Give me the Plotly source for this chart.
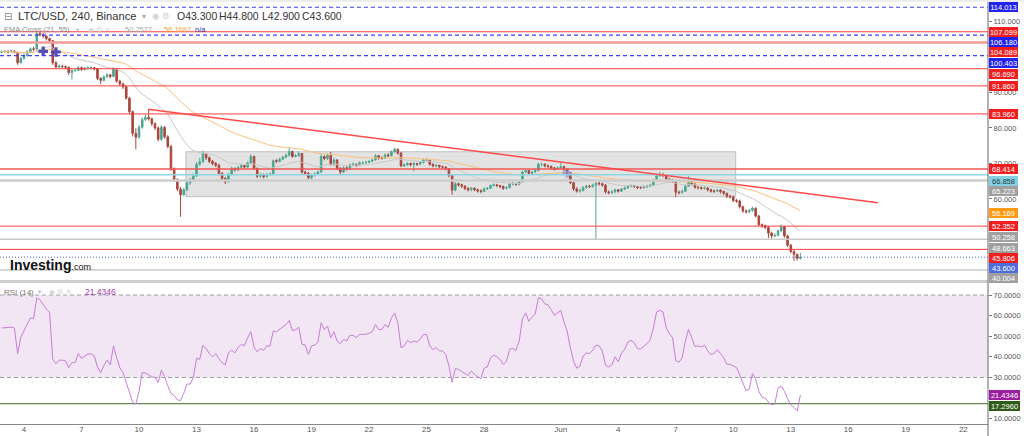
import pandas as pd
import plotly.graph_objects as go

# ---------------- data (LTC/USD 4h candles) ----------------
start_time = "2022-05-02 20:00"
first_open = 101.3

close = [
    101.5,
    101.6, 101.4, 101.7, 101.3, 98.4, 99.6,      # May 3
    100.4, 101.5, 102.3, 102.2, 106.6, 106.3,    # May 4
    105.9, 105.2, 104.6, 98.4, 97.2, 97.4,       # May 5
    97.3, 97.1, 95.6, 96.2, 96.2, 97.0,          # May 6
    96.5, 96.8, 97.0, 97.0, 96.7, 94.0,          # May 7
    93.4, 94.4, 95.0, 94.5, 96.8, 93.2,          # May 8
    92.4, 91.6, 88.4, 84.6, 78.5, 77.4,          # May 9
    80.2, 82.4, 83.0, 82.6, 81.2, 80.0,          # May 10
    76.8, 80.2, 77.5, 74.8, 68.5, 65.5,          # May 11
    62.8, 61.2, 62.6, 64.6, 65.2, 66.5,          # May 12
    69.8, 70.5, 72.8, 71.6, 70.6, 70.0,          # May 13
    69.5, 67.2, 65.8, 64.8, 67.0, 68.6,          # May 14
    68.2, 68.9, 69.4, 69.0, 70.2, 72.0,          # May 15
    68.6, 66.4, 66.9, 66.3, 66.9, 67.0,          # May 16
    70.8, 70.6, 71.2, 71.8, 72.3, 73.4,          # May 17
    72.0, 72.2, 72.8, 67.6, 67.2, 66.0,          # May 18
    66.8, 67.0, 67.6, 72.0, 71.4, 72.3,          # May 19
    69.8, 71.0, 68.6, 67.6, 68.8, 68.4,          # May 20
    69.6, 69.8, 69.5, 70.2, 70.2, 70.3,          # May 21
    70.6, 71.0, 72.2, 71.5, 71.5, 72.4,          # May 22
    72.2, 73.3, 74.0, 72.9, 69.3, 69.6,          # May 23
    70.0, 69.7, 70.0, 69.8, 70.3, 71.0,          # May 24
    71.0, 69.8, 69.3, 69.5, 69.1, 69.0,          # May 25
    68.5, 66.6, 62.5, 64.3, 64.0, 63.6,          # May 26
    63.0, 62.6, 63.0, 62.6, 62.3, 62.1,          # May 27
    62.9, 63.0, 63.8, 64.0, 63.8, 63.5,          # May 28
    63.0, 63.2, 64.2, 64.3, 64.1, 64.8,          # May 29
    67.6, 68.0, 67.2, 67.6, 68.0, 69.8,          # May 30
    69.8, 69.3, 69.2, 68.8, 68.4, 68.7,          # May 31
    69.1, 68.3, 67.2, 64.6, 62.8, 62.2,          # Jun 1
    62.4, 63.2, 63.6, 63.5, 63.9, 64.4,          # Jun 2
    64.3, 63.9, 62.0, 61.8, 62.0, 62.6,          # Jun 3
    62.2, 62.8, 63.1, 63.6, 63.7, 63.5,          # Jun 4
    63.2, 63.2, 63.4, 63.6, 63.9, 65.2,          # Jun 5
    66.6, 66.8, 66.7, 65.6, 65.3, 65.0,          # Jun 6
    61.9, 61.8, 62.2, 63.6, 65.1, 64.2,          # Jun 7
    63.3, 63.2, 63.0, 63.1, 62.6, 62.2,          # Jun 8
    62.2, 62.5, 62.1, 61.6, 60.8, 60.6,          # Jun 9
    59.6, 59.4, 57.8, 56.6, 56.4, 56.8,          # Jun 10
    57.4, 55.2, 52.8, 52.5, 52.0, 50.4,          # Jun 11
    49.6, 49.8, 51.0, 52.2, 49.6, 47.0,          # Jun 12
    45.2, 44.4, 43.3, 43.6,                      # Jun 13
]

high = [
    102.0,
    102.0, 101.9, 102.1, 101.9, 101.5, 100.0,
    100.8, 101.9, 102.7, 102.9, 107.5, 107.1,
    106.8, 106.1, 105.4, 104.8, 98.8, 97.9,
    97.8, 97.6, 97.3, 96.6, 96.8, 97.4,
    97.3, 97.2, 97.4, 97.5, 97.2, 96.9,
    94.3, 94.8, 95.4, 95.2, 97.2, 96.9,
    93.6, 92.8, 91.9, 88.8, 84.9, 79.9,
    80.8, 83.0, 83.8, 85.2, 82.9, 81.6,
    80.4, 80.8, 80.5, 78.0, 75.2, 68.9,
    65.8, 63.4, 63.2, 65.2, 66.0, 67.2,
    70.4, 71.6, 73.6, 73.0, 72.0, 71.0,
    70.4, 69.9, 67.6, 66.2, 67.4, 69.2,
    68.9, 69.3, 69.9, 69.6, 70.6, 72.6,
    72.2, 68.9, 67.3, 67.2, 67.3, 67.5,
    71.1, 71.2, 71.6, 72.2, 72.8, 74.6,
    73.6, 72.7, 73.4, 72.9, 67.9, 67.6,
    67.2, 67.5, 68.0, 72.6, 72.3, 72.8,
    73.3, 71.6, 71.2, 69.0, 69.2, 69.2,
    70.0, 70.3, 70.0, 70.6, 70.6, 70.8,
    71.0, 71.4, 72.6, 72.4, 72.0, 72.8,
    72.9, 73.7, 74.4, 74.2, 73.2, 70.0,
    70.4, 70.3, 70.4, 70.2, 70.7, 71.4,
    71.5, 71.2, 70.0, 69.8, 69.6, 69.4,
    69.2, 68.7, 66.9, 64.7, 64.6, 64.3,
    63.9, 63.3, 63.4, 63.3, 62.9, 62.7,
    63.2, 63.4, 64.1, 64.4, 64.3, 64.0,
    63.8, 63.6, 64.6, 64.8, 64.6, 65.3,
    67.9, 68.4, 68.2, 67.9, 68.4, 70.2,
    70.2, 70.0, 69.7, 69.4, 69.0, 69.2,
    70.4, 69.4, 68.6, 67.6, 64.9, 63.3,
    62.9, 63.6, 64.0, 64.0, 64.3, 64.8,
    64.9, 64.6, 64.2, 62.4, 62.5, 62.9,
    62.8, 63.1, 63.5, 63.9, 64.1, 64.0,
    63.7, 63.6, 63.8, 64.0, 64.3, 65.6,
    66.9, 67.7, 67.4, 66.9, 65.9, 65.7,
    65.2, 62.4, 62.6, 64.0, 66.4, 65.4,
    64.4, 63.6, 63.5, 63.5, 63.3, 62.9,
    62.6, 62.8, 62.7, 62.3, 61.8, 61.1,
    60.9, 60.0, 59.8, 58.1, 57.1, 57.2,
    57.8, 57.6, 55.5, 53.1, 52.8, 52.4,
    50.8, 50.3, 51.4, 52.8, 52.4, 49.9,
    47.3, 45.6, 44.6, 44.8,
]

low = [
    101.0,
    101.1, 101.0, 101.2, 101.0, 97.8, 98.2,
    99.3, 100.1, 101.2, 101.7, 102.0, 105.8,
    105.3, 104.6, 104.0, 97.8, 96.8, 96.9,
    96.8, 96.6, 94.9, 93.6, 95.8, 96.0,
    96.1, 96.2, 96.5, 96.5, 96.2, 93.5,
    92.4, 93.1, 94.2, 94.0, 94.3, 92.8,
    91.8, 91.0, 88.0, 84.0, 77.6, 74.0,
    77.0, 79.8, 82.0, 82.1, 80.6, 79.4,
    76.2, 76.4, 77.0, 74.3, 67.9, 64.9,
    62.2, 55.0, 60.8, 62.2, 64.0, 64.8,
    66.2, 69.4, 70.2, 71.0, 70.1, 69.5,
    69.0, 66.8, 65.2, 64.2, 64.6, 66.6,
    67.7, 67.9, 68.6, 68.5, 68.7, 69.9,
    68.2, 65.9, 66.0, 65.8, 66.0, 66.5,
    66.8, 70.1, 70.3, 70.9, 71.4, 72.0,
    71.6, 71.7, 71.9, 67.1, 66.7, 65.6,
    65.5, 66.3, 66.8, 67.3, 70.9, 71.0,
    69.4, 69.4, 68.2, 66.8, 67.3, 68.0,
    68.2, 69.2, 69.0, 69.3, 69.8, 69.9,
    70.1, 70.4, 70.8, 71.1, 71.1, 71.3,
    71.8, 72.0, 73.1, 72.5, 69.0, 69.0,
    69.4, 69.2, 67.8, 69.3, 69.6, 70.0,
    70.6, 69.4, 68.9, 68.9, 68.7, 68.6,
    68.1, 66.1, 61.2, 62.2, 63.5, 63.1,
    62.5, 62.1, 62.2, 62.2, 61.8, 61.6,
    61.9, 62.5, 62.8, 63.5, 63.3, 63.0,
    62.6, 62.7, 63.0, 63.8, 63.7, 63.9,
    64.6, 67.3, 66.8, 66.9, 67.4, 67.8,
    69.2, 68.9, 68.7, 68.3, 68.0, 68.2,
    68.4, 67.9, 66.8, 64.2, 62.3, 61.8,
    61.8, 62.1, 62.9, 63.1, 63.2, 48.4,
    63.8, 63.5, 61.5, 61.3, 61.4, 61.7,
    61.8, 62.0, 62.5, 62.9, 63.3, 63.1,
    62.8, 62.8, 62.9, 63.1, 63.4, 63.6,
    65.0, 66.2, 66.1, 65.2, 64.9, 64.5,
    60.6, 61.3, 61.5, 62.0, 63.4, 63.8,
    62.9, 62.7, 62.6, 62.6, 62.1, 61.8,
    61.7, 61.9, 61.6, 61.1, 60.3, 60.1,
    59.1, 58.9, 57.3, 56.1, 55.9, 56.0,
    56.4, 54.8, 52.3, 51.8, 51.5, 49.0,
    48.8, 49.2, 49.5, 50.8, 49.1, 46.5,
    44.7, 42.6, 42.7, 42.9,
]

rsi = [
    54.0, 54.2, 54.4, 54.4, 54.0, 41.5, 49.5,
    52.7, 56.5, 58.9, 58.6, 68.5, 67.7,
    65.3, 63.2, 61.6, 38.8, 36.7, 38.4,
    38.4, 38.0, 34.8, 37.2, 37.2, 41.6,
    39.3, 40.4, 41.4, 41.4, 40.4, 35.1,
    32.4, 35.9, 38.4, 36.1, 45.3, 39.6,
    34.8, 32.4, 27.6, 22.0, 18.0, 17.1,
    23.3, 32.4, 32.2, 31.3, 30.3, 30.0,
    27.6, 33.5, 30.5, 26.0, 22.3, 21.2,
    19.2, 18.8, 22.3, 26.8, 26.8, 30.0,
    39.3, 38.8, 45.7, 44.0, 41.6, 40.0,
    41.6, 39.1, 37.2, 36.1, 42.0, 43.2,
    41.9, 44.5, 46.1, 45.4, 49.3, 52.2,
    44.8, 42.4, 44.0, 43.2, 45.3, 45.3,
    52.5, 52.2, 53.5, 54.4, 55.7, 57.6,
    52.8, 53.1, 54.4, 46.1, 45.7, 41.2,
    45.3, 45.7, 47.3, 56.5, 53.3, 54.9,
    49.3, 52.2, 47.7, 46.4, 48.5, 47.7,
    50.4, 50.4, 49.3, 50.9, 50.9, 50.9,
    51.4, 52.2, 55.7, 53.3, 53.3, 55.7,
    54.4, 58.9, 61.2, 56.5, 44.5, 45.3,
    48.0, 46.9, 47.7, 47.2, 48.5, 50.9,
    50.9, 45.3, 43.5, 44.5, 42.9, 42.9,
    41.2, 35.6, 27.6, 34.3, 33.9, 33.1,
    31.9, 31.0, 33.1, 31.6, 30.3, 29.5,
    34.5, 35.1, 39.6, 40.8, 40.1, 38.8,
    36.4, 37.8, 43.7, 44.1, 43.2, 47.7,
    58.4, 61.3, 57.3, 59.2, 60.8, 68.6,
    68.2, 65.7, 65.3, 62.9, 60.2, 61.3,
    62.5, 57.0, 52.5, 44.5, 38.0, 34.5,
    35.6, 40.4, 41.9, 41.6, 43.2, 45.7,
    45.4, 42.9, 35.9, 35.1, 36.1, 40.0,
    37.7, 41.7, 43.7, 47.2, 48.0, 46.9,
    44.0, 43.8, 44.9, 46.4, 48.3, 54.1,
    61.8, 62.5, 61.8, 54.1, 51.2, 49.3,
    38.2, 37.4, 39.6, 47.7, 53.3, 49.3,
    45.1, 45.3, 44.8, 45.6, 42.9, 41.2,
    41.7, 43.5, 41.6, 39.6, 36.4, 36.4,
    35.6, 34.8, 31.3, 27.1, 23.6, 24.4,
    31.9, 29.2, 23.3, 20.4, 20.0, 18.0,
    16.8, 17.1, 25.0, 25.8, 23.3, 19.6,
    16.7, 15.5, 13.8, 21.43,
]

tick_dates = ["2022-05-04", "2022-05-07", "2022-05-10", "2022-05-13", "2022-05-16",
              "2022-05-19", "2022-05-22", "2022-05-25", "2022-05-28", "2022-06-01",
              "2022-06-04", "2022-06-07", "2022-06-10", "2022-06-13", "2022-06-16",
              "2022-06-19", "2022-06-22"]
tick_text = ["4", "7", "10", "13", "16", "19", "22", "25", "28", "Jun",
             "4", "7", "10", "13", "16", "19", "22"]
price_ticks = [60, 70, 80, 90, 110]
rsi_ticks = [10, 30, 40, 50, 60, 70]

level_values = [114.013, 107.099, 106.180, 104.089, 100.403, 96.690, 91.860, 83.960,
                68.414, 66.858, 65.223, 52.352, 48.663, 45.806, 43.600, 40.004]
level_kinds = ["blue", "red", "blue", "salmon", "blue", "red", "red", "red",
               "red2", "cyan", "grey_thick", "red", "grey", "red", "last", "grey"]

price_labels = [114.013, 107.099, 106.180, 104.089, 100.403, 96.690, 91.860, 83.960,
                68.414, 66.858, 65.223, 56.169, 52.352, 50.258, 48.663, 45.806, 43.600, 40.004]
price_label_kinds = ["blue", "red", "blue", "red", "blue", "red", "red", "red",
                     "red", "cyan", "grey", "orange", "red", "grey", "grey", "red", "last", "grey"]

rsi_labels = [21.4346, 17.2960]
rsi_label_kinds = ["purple", "green"]
rsi_band = [30, 70]
rsi_line_level = 17.296

zone_times = ["2022-05-12 10:45", "2022-06-10 03:00"]
zone_prices = [60.65, 73.3]
trend_times = ["2022-05-10 11:15", "2022-06-17 13:10"]
trend_prices = [85.27, 58.96]
cross_times = ["2022-05-05 00:00", "2022-05-05 16:00", "2022-06-01 08:00"]
cross_prices = [101.6, 101.4, 67.3]

legend_ohlc = ["O43.300", "H44.800", "L42.900", "C43.600"]
ema_legend_values = ["50.2577", "56.1687", "n/a"]
rsi_legend_value = "21.4346"

# ---------------- derived ----------------
times = pd.date_range(start_time, periods=len(close), freq="4h")
opens = [first_open] + close[:-1]
ema21 = pd.Series(close).ewm(span=21, adjust=False).mean()
ema55 = pd.Series(close).ewm(span=55, adjust=False).mean()

# ---------------- layout geometry ----------------
W, H = 1024, 436
ML, MR, MT, MB = 0, 36, 1, 12
PH = H - MT - MB
PW = W - ML - MR


def py(ypx):
    return (H - MB - ypx) / PH


def px(xpx):
    return (xpx - ML) / PW


FONT = "Liberation Sans, Arial, sans-serif"

fig = go.Figure()

fig.add_trace(go.Candlestick(
    x=times, open=opens, high=high, low=low, close=close,
    increasing=dict(line=dict(color="#52a894", width=1), fillcolor="#27a58c"),
    decreasing=dict(line=dict(color="#a8463c", width=1), fillcolor="#b4473c"),
    xaxis="x", yaxis="y", hoverinfo="skip", showlegend=False,
))
fig.add_trace(go.Scatter(x=times, y=ema21, mode="lines", line=dict(color="#c9c9c9", width=1),
                         xaxis="x", yaxis="y", hoverinfo="skip", showlegend=False))
fig.add_trace(go.Scatter(x=times, y=ema55, mode="lines", line=dict(color="#fbc27c", width=1),
                         xaxis="x", yaxis="y", hoverinfo="skip", showlegend=False))
fig.add_trace(go.Scatter(x=pd.to_datetime(cross_times), y=cross_prices, mode="markers",
                         marker=dict(symbol="cross", size=8,
                                     color=["rgba(70,60,175,0.9)", "rgba(70,60,175,0.9)", "rgba(110,120,220,0.55)"],
                                     line=dict(width=0)),
                         xaxis="x", yaxis="y", hoverinfo="skip", showlegend=False))
fig.add_trace(go.Scatter(x=times, y=rsi, mode="lines", line=dict(color="#c77ed6", width=1),
                         xaxis="x", yaxis="y2", hoverinfo="skip", showlegend=False))

shapes = []
# consolidation zone
shapes.append(dict(type="rect", xref="x", yref="y", x0=zone_times[0], x1=zone_times[1],
                   y0=zone_prices[0], y1=zone_prices[1], fillcolor="rgba(200,200,200,0.5)",
                   line=dict(color="rgba(185,185,185,0.9)", width=1), layer="below"))

level_style = {
    "red": dict(color="#ff3b3b", width=1, dash="solid"),
    "salmon": dict(color="#f39a9a", width=2.5, dash="solid"),
    "red2": dict(color="#f25656", width=1.5, dash="solid"),
    "blue": dict(color="#3d3dff", width=1.2, dash="4px,3px"),
    "cyan": dict(color="#8ed3e6", width=1.5, dash="solid"),
    "grey_thick": dict(color="#cdcdcd", width=2.5, dash="solid"),
    "grey": dict(color="#c9c9c9", width=1.5, dash="solid"),
    "last": dict(color="#5266e0", width=1, dash="1px,2px"),
}
for v, k in zip(level_values, level_kinds):
    shapes.append(dict(type="line", xref="paper", yref="y", x0=0, x1=1, y0=v, y1=v,
                       line=level_style[k], layer="above"))

shapes.append(dict(type="line", xref="x", yref="y", x0=trend_times[0], x1=trend_times[1],
                   y0=trend_prices[0], y1=trend_prices[1],
                   line=dict(color="#ff4a4a", width=1.5), layer="above"))

# RSI pane decorations
shapes.append(dict(type="rect", xref="paper", yref="y2", x0=0, x1=1, y0=rsi_band[0], y1=rsi_band[1],
                   fillcolor="#f2e5f4", line=dict(width=0), layer="below"))
for b in rsi_band:
    shapes.append(dict(type="line", xref="paper", yref="y2", x0=0, x1=1, y0=b, y1=b,
                       line=dict(color="#a0a0a0", width=1, dash="4px,3px"), layer="below"))
shapes.append(dict(type="line", xref="paper", yref="y2", x0=0, x1=1, y0=rsi_line_level, y1=rsi_line_level,
                   line=dict(color="#3f6a26", width=1), layer="below"))

# frame pieces
shapes.append(dict(type="rect", xref="paper", yref="paper", x0=0, x1=1, y0=py(283), y1=py(280),
                   fillcolor="#cfcfcf", line=dict(width=0), layer="above"))
shapes.append(dict(type="line", xref="paper", yref="paper", x0=1, x1=1, y0=py(436), y1=py(0),
                   line=dict(color="#666666", width=1), layer="above"))
shapes.append(dict(type="rect", xref="paper", yref="paper", x0=0, x1=px(1024), y0=py(2), y1=py(0),
                   fillcolor="#ececec", line=dict(width=0), layer="above"))

annotations = []

label_bg = {"red": "#f01e1e", "blue": "#2222ee", "cyan": "#84d0e2", "grey": "#a0a0a0",
            "orange": "#ff9a12", "last": "#4b6de0", "purple": "#9a1f9e", "green": "#2f5a18"}
label_fg = {"cyan": "#253a44"}
price_label_shift = [0, 0, -6.6, -10, -7.7, -5.2, 0, 0, 0, -6, -10.5, 0, 0, -3, -8.5, -8.3, -11, -8.3]
for v, k, sh in zip(price_labels, price_label_kinds, price_label_shift):
    annotations.append(dict(x=1, xref="paper", xanchor="left", xshift=1, y=v, yref="y",
                            yanchor="middle", yshift=sh, text=f"{v:.3f}", showarrow=False,
                            bgcolor=label_bg[k], font=dict(size=7.5, color=label_fg.get(k, "white"), family=FONT),
                            width=29, height=10, borderpad=0, borderwidth=0))
rsi_label_shift = [0, -2.6]
for v, k, sh in zip(rsi_labels, rsi_label_kinds, rsi_label_shift):
    annotations.append(dict(x=1, xref="paper", xanchor="left", xshift=1, y=v, yref="y2",
                            yanchor="middle", yshift=sh, text=f"{v:.4f}", showarrow=False,
                            bgcolor=label_bg[k], font=dict(size=7.5, color="white", family=FONT),
                            width=31, height=10, borderpad=0, borderwidth=0))


def txt(text, xpx, ypx, size, color, **kw):
    d = dict(x=px(xpx), xref="paper", xanchor="left", y=py(ypx), yref="paper", yanchor="middle",
             text=text, showarrow=False, font=dict(size=size, color=color, family=kw.pop("family", FONT)))
    d.update(kw)
    annotations.append(d)


# header row 1
txt("⊟", 2, 16, 10, "#888888", family="DejaVu Sans")
txt("LTC/USD, 240, Binance", 16, 16, 11.2, "#333333")
txt("▾", 140, 16, 8, "#aaaaaa", family="DejaVu Sans")
txt("◉ ⚙", 150, 16, 8.5, "#cfcfcf", family="DejaVu Sans")
for t, xp in zip(legend_ohlc, [175, 217, 260, 300]):
    txt(t, xp, 16, 10.5, "#333333")
# header row 2
txt("EMA Cross (21, 55)", 2, 30, 7.5, "#8a8a8a")
txt("▾", 74, 30, 6.5, "#bbbbbb", family="DejaVu Sans")
txt("◉ ⚙ ✕", 86, 30, 7, "#d5d5d5", family="DejaVu Sans")
for t, xp, c in zip(ema_legend_values, [123, 162, 193], ["#a8a8a8", "#f5a03a", "#2d2da0"]):
    txt(t, xp, 30, 7.5, c)
# RSI legend
txt("RSI (14)", 2, 292, 8, "#777777")
txt("▾", 36, 292, 6.5, "#bbbbbb", family="DejaVu Sans")
txt("◉ ⚙ ✕", 47, 292, 7, "#d5d5d5", family="DejaVu Sans")
txt(rsi_legend_value, 83, 292, 8.5, "#a03bb0")
# watermark
txt("<b>Investing</b><span style='font-size:9px'>.com</span>", 8, 265, 14, "#111111")

fig.update_layout(
    width=W, height=H,
    margin=dict(l=ML, r=MR, t=MT, b=MB, pad=0),
    paper_bgcolor="white", plot_bgcolor="white",
    font=dict(family=FONT, color="#555555"),
    showlegend=False,
    shapes=shapes,
    annotations=annotations,
    xaxis=dict(domain=[0, 1], anchor="y2", type="date",
               range=["2022-05-02 17:57", "2022-06-23 06:53"],
               rangeslider=dict(visible=False), showgrid=False, zeroline=False,
               tickmode="array", tickvals=tick_dates, ticktext=tick_text,
               tickfont=dict(size=8, color="#555555"), ticks="", ticklabelstandoff=-3,
               showline=True, linecolor="#888888", linewidth=1,
               automargin=False, fixedrange=True),
    yaxis=dict(domain=[py(280), py(1)], anchor="x", side="right", range=[37.18, 115.77],
               showgrid=False, zeroline=False, tickmode="array", tickvals=price_ticks,
               tickformat=".3f", tickfont=dict(size=7.5, color="#555555"), ticks="outside",
               ticklen=3, tickcolor="#777777", showline=False, automargin=False),
    yaxis2=dict(domain=[0, py(283)], anchor="x", side="right", range=[7.45, 75.82],
                showgrid=False, zeroline=False, tickmode="array", tickvals=rsi_ticks,
                tickformat=".4f", tickfont=dict(size=7.5, color="#555555"), ticks="outside",
                ticklen=3, tickcolor="#777777", showline=False, automargin=False),
)

fig.write_html("out.html", config={"displayModeBar": False})
